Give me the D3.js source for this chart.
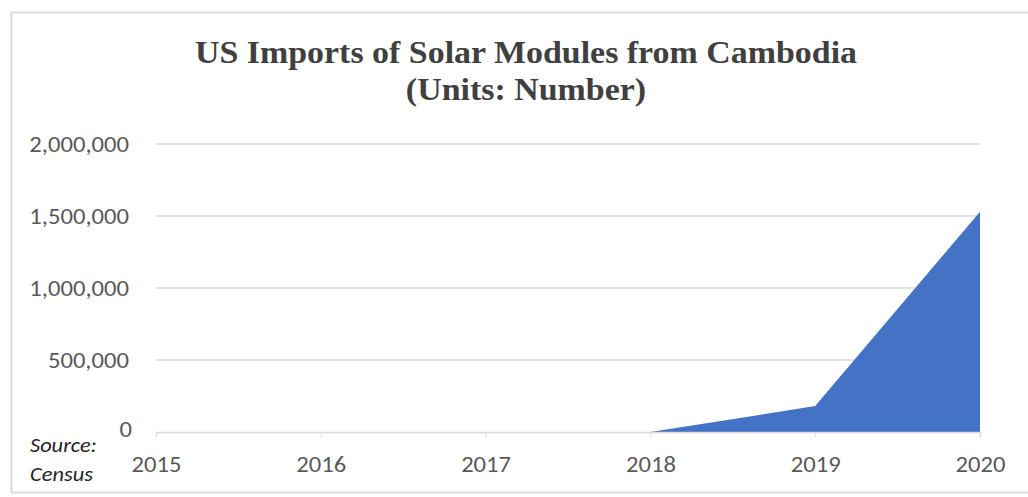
<!DOCTYPE html>
<html><head><meta charset="utf-8">
<script src="https://cdn.jsdelivr.net/npm/d3@7"></script>
<style>body{margin:0;background:#fff;}svg{display:block;}</style>
</head><body>
<svg id="c" width="1028" height="497"></svg>
<script>
const years = ["2015","2016","2017","2018","2019","2020"];
const imports = [0, 0, 0, 0, 180000, 1530000];
const yTicks = [0, 500000, 1000000, 1500000, 2000000];
const titleLines = ["US Imports of Solar Modules from Cambodia", "(Units: Number)"];
const sourceLines = ["Source:", "Census"];

const svg = d3.select("#c");
function stretch(sel, k){
  sel.each(function(){
    const w = this.getComputedTextLength();
    d3.select(this).attr("textLength", w*k).attr("lengthAdjust","spacingAndGlyphs");
  });
}
// chart frame
svg.append("path").attr("d","M1028,12.5H11.5V492.5H1028").attr("fill","none").attr("stroke","#d9d9d9").attr("stroke-width",2);

const x = d3.scalePoint().domain(years).range([156, 980]);
const y = d3.scaleLinear().domain([0, 2000000]).range([432, 144]);

// gridlines
svg.append("g").selectAll("line").data(yTicks.filter(d=>d>0)).join("line")
  .attr("x1",156).attr("x2",980).attr("y1",d=>y(d)).attr("y2",d=>y(d))
  .attr("stroke","#d9d9d9").attr("stroke-width",1.5);

// area
const data = years.map((yr,i)=>({yr, v: imports[i]}));
svg.append("path").datum(data)
  .attr("d", d3.area().x(d=>x(d.yr)).y0(y(0)).y1(d=>y(d.v)))
  .attr("fill","#4472C4");

const lblFont = "Carlito, Calibri, 'Open Sans', sans-serif";
// x axis
const xa = svg.append("g").attr("transform",`translate(0,${y(0)})`)
  .call(d3.axisBottom(x).tickSize(5).tickPadding(19));
xa.select(".domain").attr("stroke","#d9d9d9").attr("stroke-width",1.5);
xa.selectAll(".tick line").attr("stroke","#d9d9d9");
xa.selectAll("text").attr("font-family",lblFont).attr("font-size",22).attr("fill","#595959").call(stretch,1.12);

// y axis labels
const ya = svg.append("g").attr("transform","translate(156,0)")
  .call(d3.axisLeft(y).tickValues(yTicks).tickSize(0).tickPadding(27).tickFormat(d3.format(",")));
ya.select(".domain").remove();
ya.selectAll("text").attr("font-family",lblFont).attr("font-size",22).attr("fill","#595959").call(stretch,1.12);
ya.selectAll(".tick").filter(d=>d===0).select("text").attr("dy","0.2em").attr("x",-24);

// title
svg.append("g").selectAll("text").data(titleLines).join("text")
  .attr("x",526).attr("y",(d,i)=>63+i*37).attr("text-anchor","middle")
  .attr("font-family","'Liberation Serif','Times New Roman',serif").attr("font-weight","bold")
  .attr("font-size",32).attr("fill","#404040").text(d=>d).call(stretch,1.06);

// source note
svg.append("g").selectAll("text").data(sourceLines).join("text")
  .attr("x",30).attr("y",(d,i)=>452+i*29)
  .attr("font-family",lblFont).attr("font-style","italic")
  .attr("font-size",20).attr("fill","#262626").text(d=>d).call(stretch,1.12);
</script>
</body></html>
